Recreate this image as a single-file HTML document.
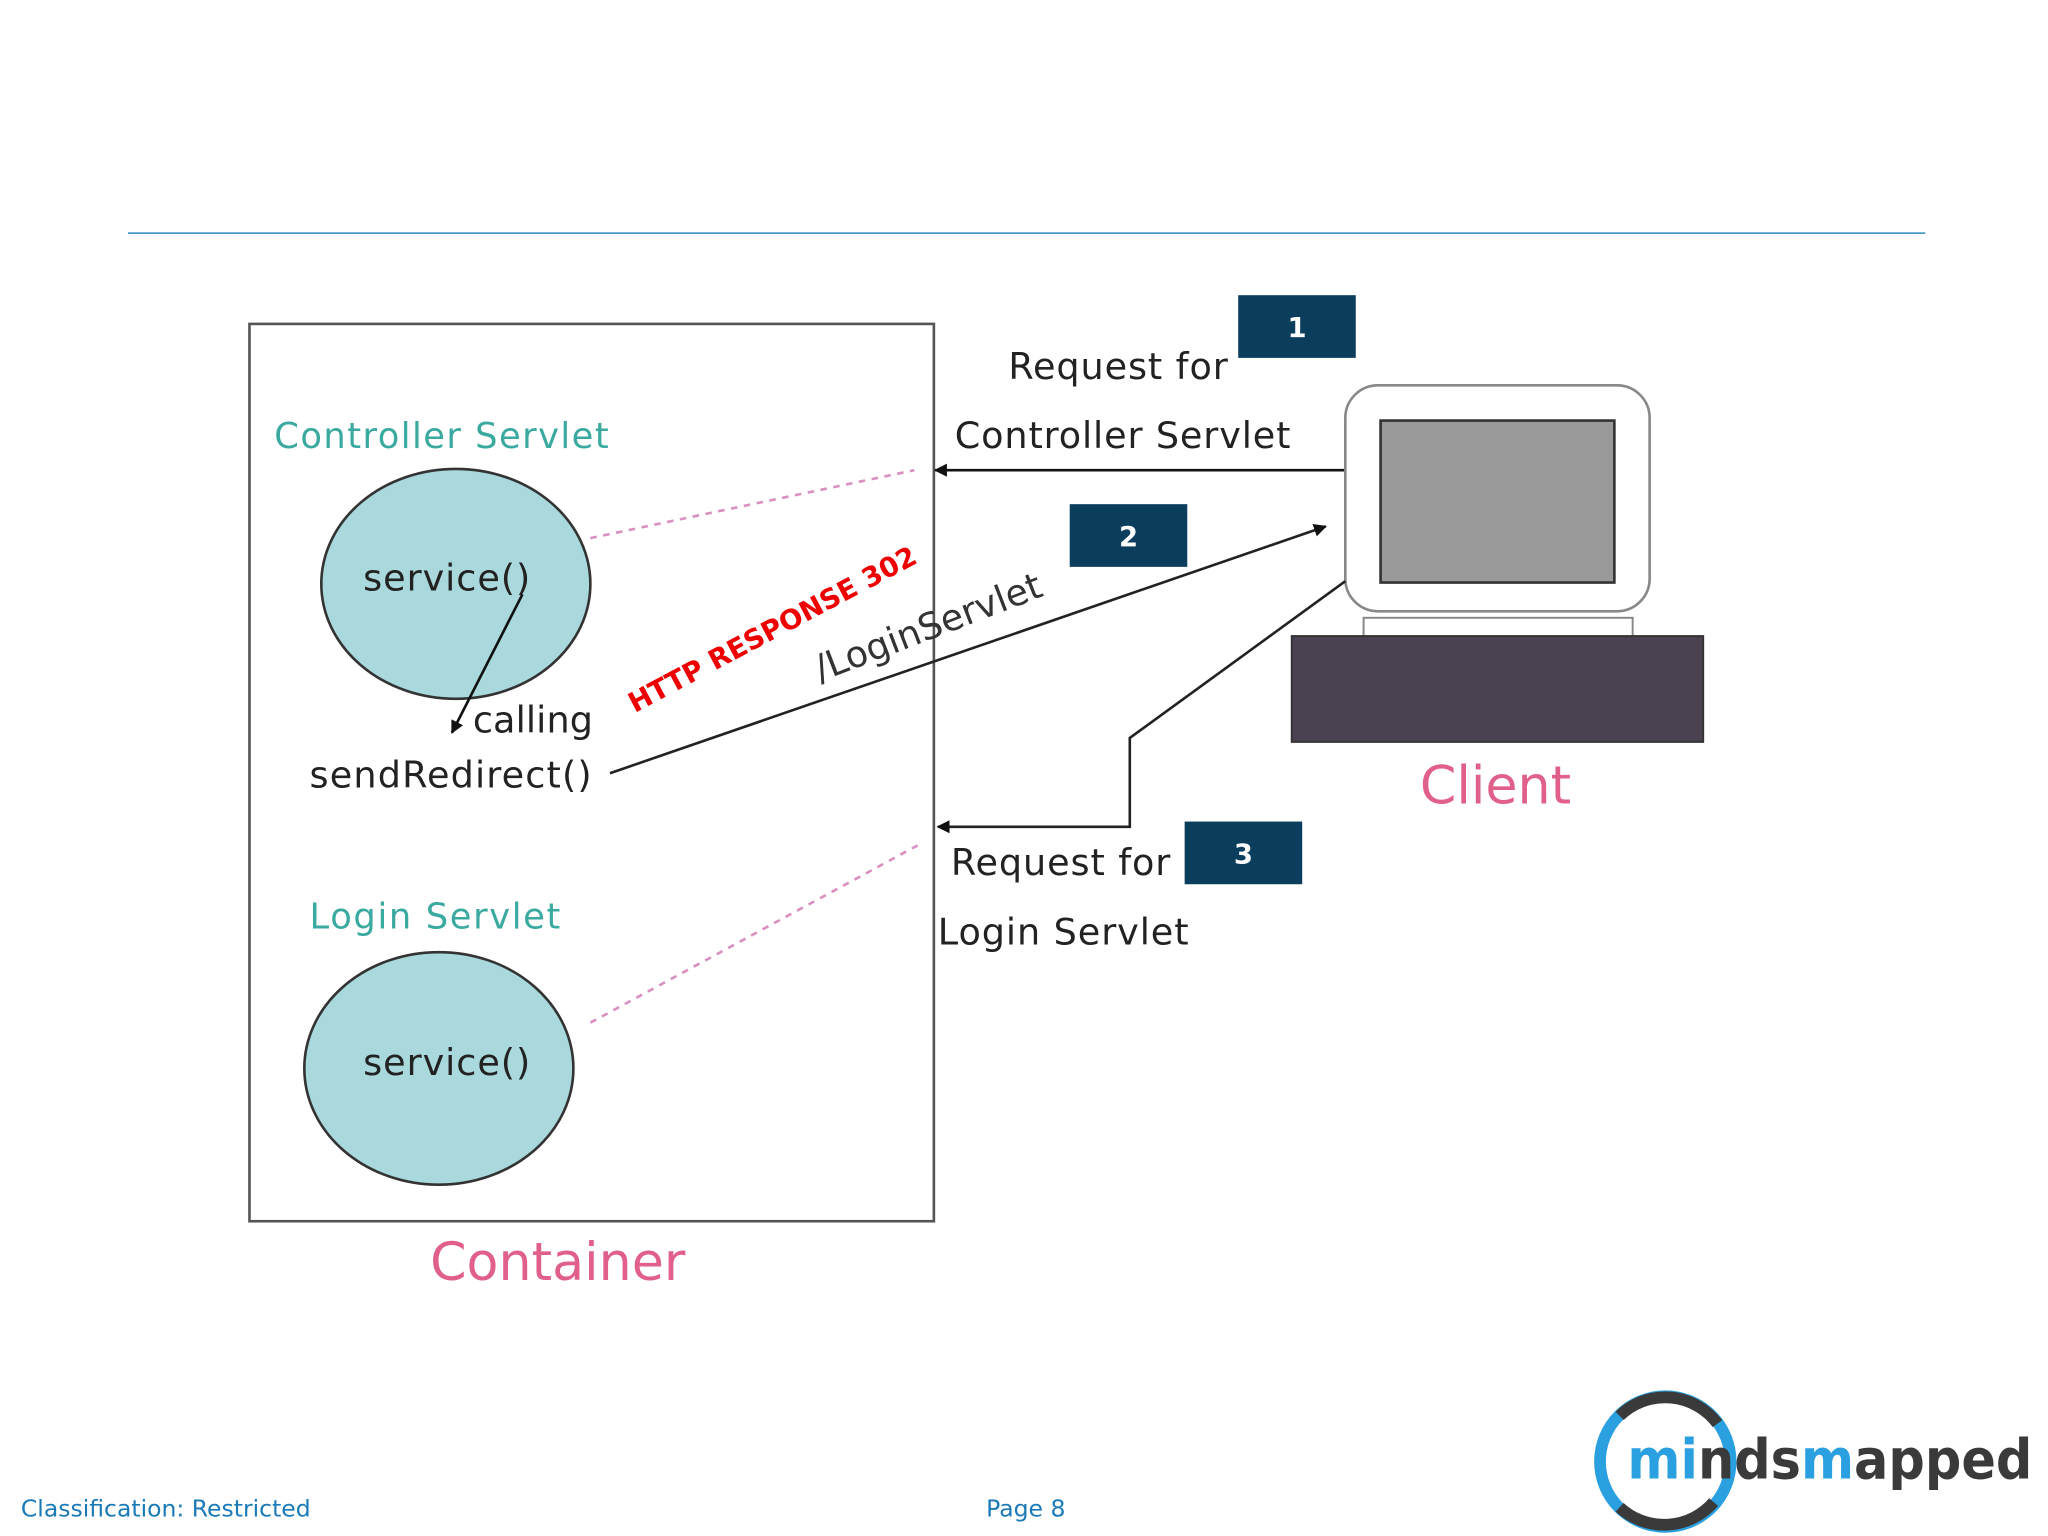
<!DOCTYPE html>
<html><head><meta charset="utf-8"><style>
html,body{margin:0;padding:0;background:#fff;}
svg{display:block;}
text{font-family:"DejaVu Sans","Liberation Sans",sans-serif;}
</style></head><body>
<svg width="2048" height="1536" viewBox="0 0 1568 1176" xmlns="http://www.w3.org/2000/svg">
<defs>
<marker id="ah" markerWidth="10" markerHeight="10" refX="9" refY="5" orient="auto" markerUnits="userSpaceOnUse">
<path d="M0,0 L10,5 L0,10 z" fill="#111"/>
</marker>
</defs>
<line x1="98" y1="178.5" x2="1474" y2="178.5" stroke="#2a8ac0" stroke-width="1.2"/>
<rect x="191" y="248" width="524" height="687" fill="#fff" stroke="#555" stroke-width="2"/>
<text x="210" y="343" font-size="27" fill="#3aaaa0" textLength="256">Controller Servlet</text>
<ellipse cx="349" cy="447" rx="103" ry="88" fill="#a9d9dc" stroke="#333" stroke-width="2"/>
<text x="278" y="452" font-size="28" fill="#222" textLength="128">service()</text>
<line x1="400" y1="455" x2="346" y2="561" stroke="#111" stroke-width="2" marker-end="url(#ah)"/>
<text x="362" y="561" font-size="28" fill="#222" textLength="92">calling</text>
<text x="237" y="603" font-size="28" fill="#222" textLength="216">sendRedirect()</text>
<line x1="467" y1="592" x2="1015" y2="403" stroke="#222" stroke-width="2" marker-end="url(#ah)"/>
<text x="0" y="0" font-size="28" fill="#333" transform="translate(628,522) rotate(-21)">/LoginServlet</text>
<text x="0" y="0" font-size="21" font-weight="bold" fill="#ee0000" transform="translate(486,546) rotate(-28)">HTTP RESPONSE 302</text>
<line x1="452" y1="412" x2="700" y2="360" stroke="#d98fc0" stroke-width="2" stroke-dasharray="5,5"/>
<line x1="1030" y1="360" x2="716" y2="360" stroke="#111" stroke-width="2" marker-end="url(#ah)"/>
<text x="772" y="290" font-size="28" fill="#222" textLength="168">Request for</text>
<text x="731" y="343" font-size="28" fill="#222" textLength="257">Controller Servlet</text>
<rect x="948" y="226" width="90" height="48" fill="#0b3d5c"/>
<text x="993" y="258" font-size="21" font-weight="bold" fill="#fff" text-anchor="middle">1</text>
<rect x="819" y="386" width="90" height="48" fill="#0b3d5c"/>
<text x="864" y="418" font-size="21" font-weight="bold" fill="#fff" text-anchor="middle">2</text>
<rect x="907" y="629" width="90" height="48" fill="#0b3d5c"/>
<text x="952" y="661" font-size="21" font-weight="bold" fill="#fff" text-anchor="middle">3</text>
<rect x="1030" y="295" width="233" height="173" rx="25" fill="#fff" stroke="#888" stroke-width="2"/>
<rect x="1057" y="322" width="179" height="124" fill="#9a9a9a" stroke="#333" stroke-width="2"/>
<rect x="1044" y="473" width="206" height="15" fill="#fff" stroke="#888" stroke-width="1.5"/>
<rect x="989" y="487" width="315" height="81" fill="#4a4250" stroke="#333" stroke-width="1.5"/>
<text x="1145" y="615" font-size="40" fill="#e0608a" text-anchor="middle">Client</text>
<polyline points="1030,445 865,565 865,633 718,633" fill="none" stroke="#222" stroke-width="2" marker-end="url(#ah)"/>
<text x="728" y="670" font-size="28" fill="#222" textLength="168">Request for</text>
<text x="718" y="723" font-size="28" fill="#222" textLength="192">Login Servlet</text>
<line x1="452" y1="783" x2="703" y2="647" stroke="#d98fc0" stroke-width="2" stroke-dasharray="5,5"/>
<text x="237" y="711" font-size="27" fill="#3aaaa0" textLength="192">Login Servlet</text>
<ellipse cx="336" cy="818" rx="103" ry="89" fill="#a9d9dc" stroke="#333" stroke-width="2"/>
<text x="278" y="823" font-size="28" fill="#222" textLength="128">service()</text>
<text x="427" y="980" font-size="40" fill="#e0608a" text-anchor="middle">Container</text>
<text x="16" y="1161" font-size="18" fill="#1a7ab8">Classification: Restricted</text>
<text x="755" y="1161" font-size="18" fill="#1a7ab8">Page 8</text>
<g>
<circle cx="1275" cy="1119" r="50" fill="none" stroke="#2aa0e0" stroke-width="9"/>
<path d="M1240,1084 A50,50 0 0 1 1315,1090" fill="none" stroke="#3a3a3a" stroke-width="9"/>
<path d="M1240,1154 A50,50 0 0 0 1312,1150" fill="none" stroke="#3a3a3a" stroke-width="9"/>
<text x="1246" y="1132" font-size="42" font-weight="bold" textLength="310" lengthAdjust="spacingAndGlyphs"><tspan fill="#2aa0e0">mi</tspan><tspan fill="#3a3a3a">nds</tspan><tspan fill="#2aa0e0">m</tspan><tspan fill="#3a3a3a">apped</tspan></text>
</g>
</svg>
</body></html>
